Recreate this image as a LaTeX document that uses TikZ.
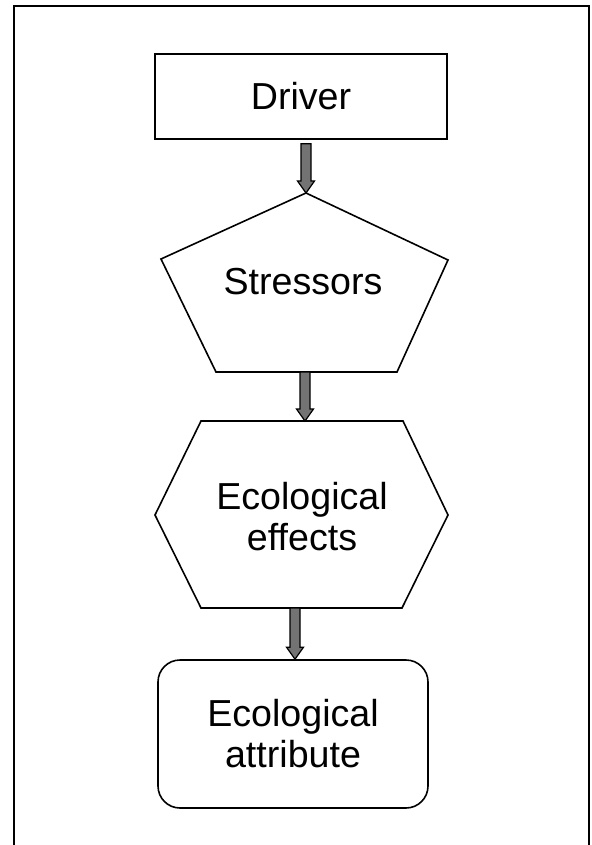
\documentclass[tikz,border=0pt]{standalone}
\usepackage{fontspec}
\setmainfont{Liberation Sans}
\usetikzlibrary{calc}

\begin{document}
\begin{tikzpicture}
  [x=0.5pt,y=-0.5pt,line width=0.8pt,every node/.style={align=center,font=\fontsize{18.8}{20.5}\selectfont}]
  \tikzstyle{box}=[draw,minimum width=146pt,minimum height=42.5pt]
  \tikzstyle{roundbox}=[draw,rounded corners=11pt,minimum width=135pt,minimum height=74pt]
  \tikzstyle{blockarrow}=[draw=black,fill=black!55,line width=0.6pt,
    to path={let \p1=(\tikztostart), \p2=(\tikztotarget) in
      (\x1-2.5pt,\y1) -- (\x1+2.5pt,\y1) -- (\x1+2.5pt,\y2+6pt) -- (\x1+4.25pt,\y2+6pt)
      -- (\x1,\y2) -- (\x1-4.25pt,\y2+6pt) -- (\x1-2.5pt,\y2+6pt) -- cycle}]
  \useasboundingbox (0,0) rectangle (592,845);
  \draw (14,845) -- (14,6) -- (589,6) -- (589,845);
  \begin{scope}
    \node[box] (driver) at (301,96.5) {Driver};
  \end{scope}
  \begin{scope}
    \coordinate (s-top) at (306,193);
    \coordinate (s-bot) at (305,372);
    \draw (s-top) -- (448,260) -- (397,372) -- (216,372) -- (161,259) -- cycle;
    \node (stress) at (303,282) {Stressors};
  \end{scope}
  \begin{scope}
    \coordinate (e-top) at (305,421);
    \coordinate (e-bot) at (295,608);
    \draw (201,421) -- (403,421) -- (448,515) -- (402,608) -- (201,608) -- (155,515) -- cycle;
    \node (effects) at (302,517) {Ecological\\effects};
  \end{scope}
  \begin{scope}
    \node[roundbox] (attr) at (293,734) {Ecological\\attribute};
  \end{scope}

  \path[blockarrow] ($(driver.south -| s-top)+(0,4)$) to (s-top);
  \path[blockarrow] (s-bot) to (e-top);
  \path[blockarrow] (e-bot) to (attr.north -| e-bot);

\end{tikzpicture}
\end{document}
